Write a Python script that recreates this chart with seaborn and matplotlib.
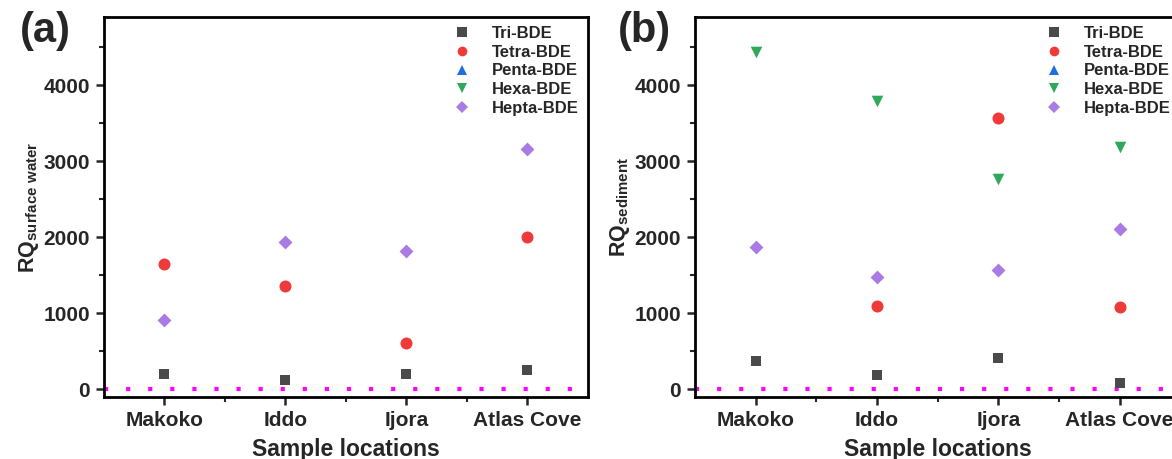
import numpy as np
import pandas as pd
import matplotlib
matplotlib.use("Agg")
import matplotlib.pyplot as plt
from matplotlib.lines import Line2D
from matplotlib.ticker import MultipleLocator, FixedLocator
import seaborn as sns

locations = ["Makoko", "Iddo", "Ijora", "Atlas Cove"]
series = ["Tri-BDE", "Tetra-BDE", "Penta-BDE", "Hexa-BDE", "Hepta-BDE"]

# Panel (a): RQ surface water
a_tri = [197, 120, 200, 250]
a_tetra = [1645, 1355, 605, 2010]
a_penta = [np.nan, np.nan, np.nan, np.nan]
a_hexa = [np.nan, np.nan, np.nan, np.nan]
a_hepta = [920, 1935, 1815, 3160]

# Panel (b): RQ sediment
b_tri = [370, 185, 420, 90]
b_tetra = [np.nan, 1095, 3565, 1080]
b_penta = [np.nan, np.nan, np.nan, np.nan]
b_hexa = [4435, 3800, 2770, 3195]
b_hepta = [1875, 1480, 1570, 2110]

threshold = 1

colors = {"Tri-BDE": "#4a4a4a", "Tetra-BDE": "#f03a3a", "Penta-BDE": "#1f6fe0",
          "Hexa-BDE": "#2fa85c", "Hepta-BDE": "#a97be3"}
markers = {"Tri-BDE": "s", "Tetra-BDE": "o", "Penta-BDE": "^",
           "Hexa-BDE": "v", "Hepta-BDE": "D"}
sizes = {"Tri-BDE": 60, "Tetra-BDE": 75, "Penta-BDE": 70, "Hexa-BDE": 70, "Hepta-BDE": 50}

sns.set_style("white")
plt.rcParams["font.family"] = ["Liberation Sans", "DejaVu Sans"]
plt.rcParams["font.weight"] = "bold"
plt.rcParams["mathtext.fontset"] = "custom"
plt.rcParams["mathtext.rm"] = "Liberation Sans:bold"
plt.rcParams["mathtext.bf"] = "Liberation Sans:bold"
plt.rcParams["mathtext.it"] = "Liberation Sans:bold"

fig = plt.figure(figsize=(11.72, 4.59), dpi=100)
ax_a = fig.add_axes([0.0887, 0.135, 0.413, 0.828])
ax_b = fig.add_axes([0.593, 0.135, 0.414, 0.828])


def make_df(vals):
    rows = []
    for s, v in zip(series, vals):
        for loc, y in zip(locations, v):
            rows.append({"location": loc, "series": s, "RQ": y})
    return pd.DataFrame(rows)


def draw(ax, vals, ylabel):
    df = make_df(vals)
    for s in series:
        sub = df[df["series"] == s].dropna()
        if len(sub):
            sns.scatterplot(data=sub, x="location", y="RQ", ax=ax, color=colors[s],
                            marker=markers[s], s=sizes[s], linewidth=0, legend=False)
    ax.axhline(threshold, color="#ff00ff", linestyle=(0, (1, 4.3)), linewidth=3, zorder=0)
    ax.set_xlim(-0.5, 3.5)
    ax.set_ylim(-100, 4900)
    ax.xaxis.set_major_locator(FixedLocator(range(len(locations))))
    ax.set_xticklabels(locations)
    ax.xaxis.set_minor_locator(FixedLocator([0.5, 1.5, 2.5]))
    ax.yaxis.set_major_locator(FixedLocator([0, 1000, 2000, 3000, 4000]))
    ax.yaxis.set_minor_locator(MultipleLocator(500))
    ax.tick_params(axis="both", which="major", direction="out", length=6, width=1.8,
                   labelsize=15, bottom=True, left=True, pad=4)
    ax.tick_params(axis="both", which="minor", direction="out", length=3.5, width=1.5,
                   bottom=True, left=True)
    for lab in ax.get_xticklabels() + ax.get_yticklabels():
        lab.set_fontweight("bold")
    for sp in ax.spines.values():
        sp.set_visible(True)
        sp.set_linewidth(2)
        sp.set_color("black")
    ax.set_xlabel("Sample locations", fontsize=16.5, fontweight="bold", labelpad=6)
    ax.set_ylabel(ylabel, fontsize=15.5, fontweight="bold", labelpad=2)
    handles = [Line2D([], [], linestyle="none", marker=markers[s], color=colors[s],
                      markersize=7 if markers[s] != "D" else 6, markeredgewidth=0)
               for s in series]
    ax.legend(handles, series, loc="upper right", frameon=False,
              handletextpad=1.0, labelspacing=0.22, borderaxespad=0.15,
              handlelength=1.6, prop={"weight": "bold", "size": 12})


draw(ax_a, [a_tri, a_tetra, a_penta, a_hexa, a_hepta],
     r"RQ$_{\mathrm{surface\ water}}$")
draw(ax_b, [b_tri, b_tetra, b_penta, b_hexa, b_hepta],
     r"RQ$_{\mathrm{sediment}}$")

fig.text(0.017, 0.975, "(a)", fontsize=30, fontweight="bold", va="top", ha="left")
fig.text(0.527, 0.975, "(b)", fontsize=30, fontweight="bold", va="top", ha="left")

fig.savefig("out.png", dpi=100)
